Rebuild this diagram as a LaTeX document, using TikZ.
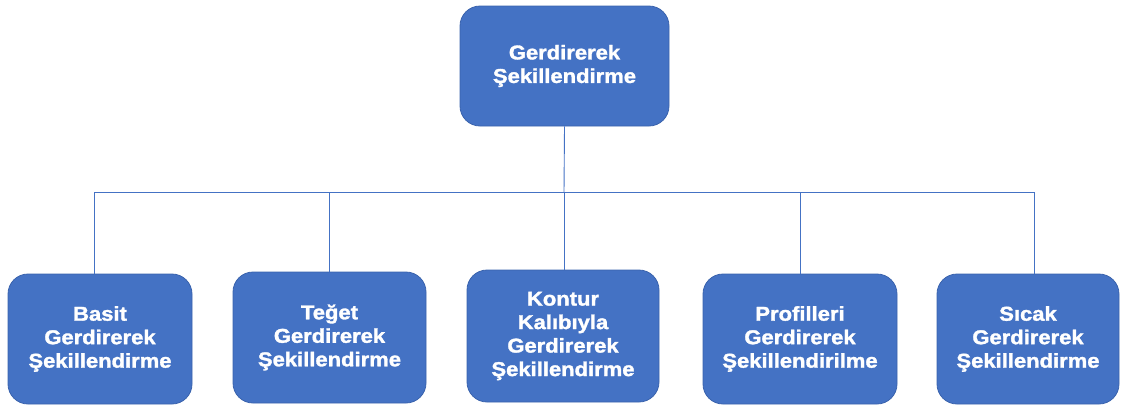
\documentclass[tikz,border=0pt]{standalone}
\usepackage{fontspec}
\setmainfont{Liberation Sans}
\newfontfamily\boxfont{Liberation Sans Bold}[FakeStretch=1.1,FakeBold=1.6]
\begin{document}
\begin{tikzpicture}[x=1pt,y=-1pt,
  box/.style={draw=boxborder,line width=0.8pt,fill=boxblue,rounded corners=20pt,
    text=white,align=center,inner sep=2pt,
    font=\boxfont\fontsize{20}{23.5}\selectfont},
  link/.style={draw=boxblue,line width=0.9pt}]
\definecolor{boxblue}{HTML}{4472C4}
\definecolor{boxborder}{HTML}{3A63AD}
\useasboundingbox (0,0) rectangle (1131,408);
\node[box,minimum width=209pt,minimum height=120pt] (top) at (564.5,66) {Gerdirerek\\Şekillendirme};
\node[box,minimum width=184pt,minimum height=130pt] (b1) at (100,339) {Basit\\Gerdirerek\\Şekillendirme};
\node[box,minimum width=193pt,minimum height=131pt] (b2) at (329.5,337.5) {Teğet\\Gerdirerek\\Şekillendirme};
\node[box,minimum width=192pt,minimum height=132pt] (b3) at (563,336) {Kontur\\Kalıbıyla\\Gerdirerek\\Şekillendirme};
\node[box,minimum width=194pt,minimum height=130pt] (b4) at (800,339) {Profilleri\\Gerdirerek\\Şekillendirilme};
\node[box,minimum width=182pt,minimum height=130pt] (b5) at (1028,339) {Sıcak\\Gerdirerek\\Şekillendirme};
\coordinate (j) at (564,192);
\coordinate (l1) at (94,192);
\coordinate (l2) at (329,192);
\coordinate (l4) at (800,192);
\coordinate (l5) at (1034,192);
\draw[link] (top.south) -- (j);
\draw[link] (l1) -- (l5);
\draw[link] (l1) -- (l1 |- b1.north);
\draw[link] (l2) -- (l2 |- b2.north);
\draw[link] (j) -- (j |- b3.north);
\draw[link] (l4) -- (l4 |- b4.north);
\draw[link] (l5) -- (l5 |- b5.north);
\end{tikzpicture}
\end{document}
